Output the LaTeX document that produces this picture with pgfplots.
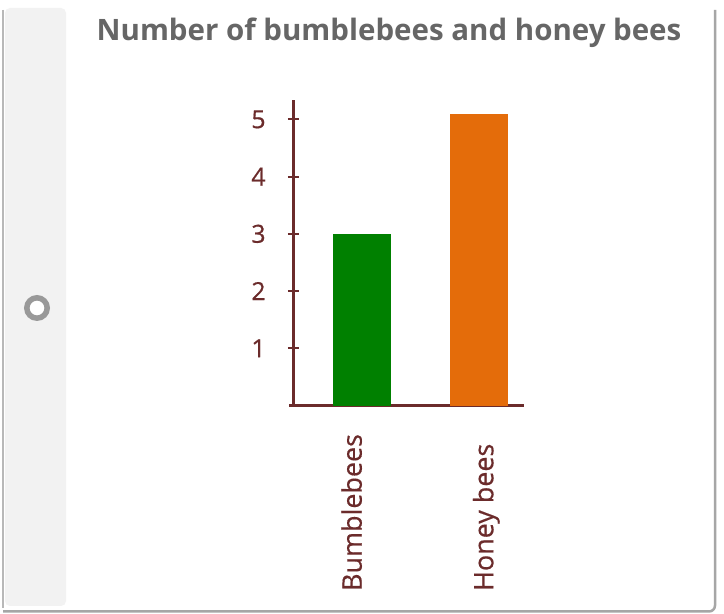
\documentclass[border=0pt]{standalone}
\usepackage{fontspec}
\setmainfont{Open Sans}
\usepackage{pgfplots}
\pgfplotsset{compat=1.18}
\definecolor{axisred}{HTML}{6B2B2B}
\definecolor{barGreen}{HTML}{008000}
\definecolor{barOrange}{HTML}{E46C0A}
\definecolor{titlegrey}{HTML}{666666}
\definecolor{stripgrey}{HTML}{F2F2F2}
\definecolor{bordergrey}{HTML}{A6A6A6}
\begin{document}
\begin{tikzpicture}[x=1bp,y=1bp]
% card
\path[use as bounding box, fill=white] (0,0) rectangle (724,614);
\fill[stripgrey, rounded corners=5bp] (5,8) rectangle (66,606);
\draw[bordergrey!80, line width=1.5bp] (3,604) -- (3,6);
\draw[bordergrey, line width=2.5bp, rounded corners=6bp] (3,2.5) -- (715,2.5) -- (715,604);
\draw[black!40, line width=5.5bp, fill=white] (37,306) circle (10.2bp);
% title
\node[text=titlegrey, font=\bfseries\fontsize{29.6}{34}\selectfont] at (389,581) {Number of bumblebees and honey bees};

\begin{axis}[
  at={(293.3bp,208.4bp)}, anchor=south west,
  scale only axis, width=230.7bp, height=305.6bp,
  axis lines=left,
  axis line style={axisred, line width=2.6bp, -},
  x axis line style={shorten <=-4.3bp},
  xmin=-0.5856, xmax=1.3896,
  ymin=0, ymax=5.338,
  ybar, bar width=58bp, bar shift=0pt,
  xtick={0,1},
  xticklabels={Bumblebees,{\raisebox{-14.8bp}{Honey bees}}},
  xtick style={draw=none},
  ytick={1,2,3,4,5},
  yticklabels={1,2,3,4,5},
  tick align=center,
  major tick length=11bp,
  ytick style={axisred, line width=2bp},
  yticklabel style={font=\fontsize{25}{28}\selectfont\addfontfeature{FakeBold=0.6}, text=axisred, inner sep=0pt, anchor=east, xshift=-22bp},
  xticklabel style={font=\fontsize{27}{30}\selectfont\addfontfeature{FakeBold=0.4}, text=axisred, inner sep=0pt, yshift=-180bp, rotate=90, anchor=base west},
  /pgf/number format/assume math mode=true,
  clip=false,
]
\addplot[fill=barGreen, draw=none] coordinates {(0,3)};
\addplot[fill=barOrange, draw=none] coordinates {(1,5.1)};
\end{axis}
\end{tikzpicture}
\end{document}
